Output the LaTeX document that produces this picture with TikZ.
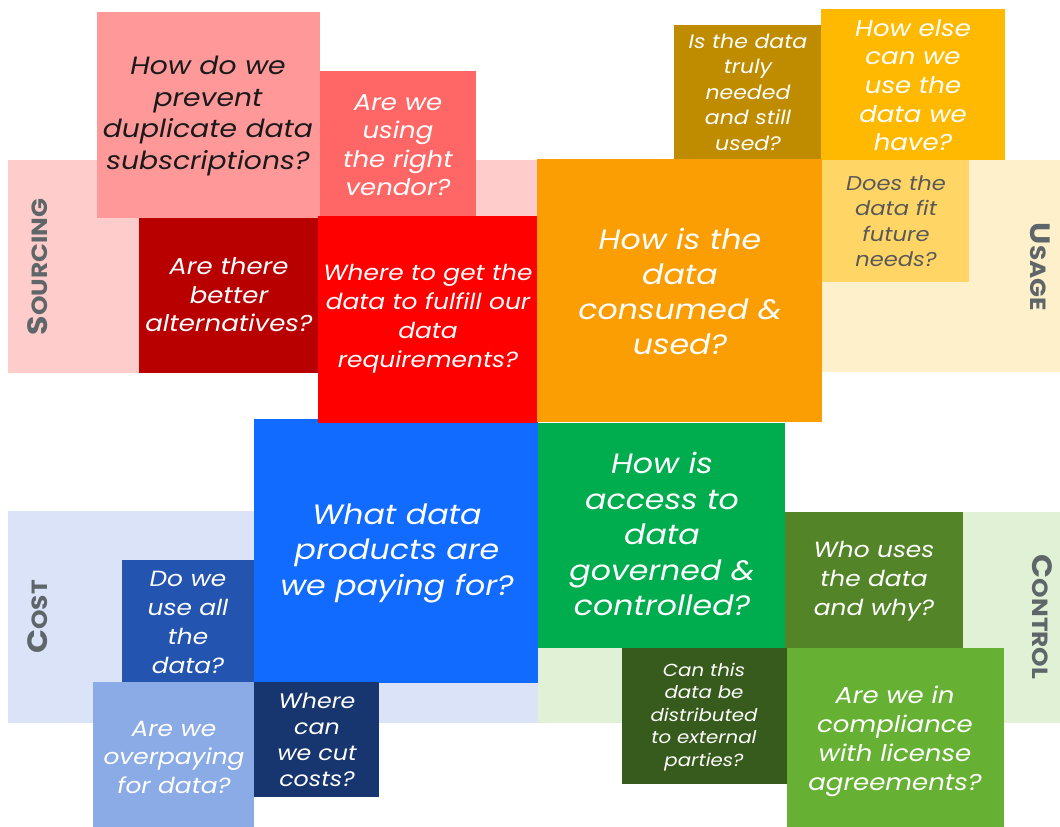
\documentclass[tikz,border=0pt]{standalone}
\usepackage{fontspec}
\setmainfont{Poppins}[FakeStretch=1.13]
\usetikzlibrary{positioning}
\usepackage{xcolor}
% band colours
\definecolor{srcband}{HTML}{FFCCCC}
\definecolor{useband}{HTML}{FFF0CC}
\definecolor{costband}{HTML}{DAE3F7}
\definecolor{ctrlband}{HTML}{E1F1D6}
% sourcing
\definecolor{srcdup}{HTML}{FF9999}
\definecolor{srcvendor}{HTML}{FF6666}
\definecolor{srcalt}{HTML}{B80000}
\definecolor{srcmain}{HTML}{FF0000}
% usage
\definecolor{usetruly}{HTML}{BF8C00}
\definecolor{useelse}{HTML}{FFB900}
\definecolor{usemain}{HTML}{FB9E04}
\definecolor{usefit}{HTML}{FFD666}
% cost
\definecolor{costmain}{HTML}{116BFF}
\definecolor{costall}{HTML}{2254B0}
\definecolor{costover}{HTML}{8AABE5}
\definecolor{costcut}{HTML}{17356F}
% control
\definecolor{ctrlmain}{HTML}{00AD4E}
\definecolor{ctrlwho}{HTML}{538528}
\definecolor{ctrldist}{HTML}{375B1C}
\definecolor{ctrlcomp}{HTML}{66B133}
\definecolor{labelgray}{HTML}{5F6669}
\definecolor{darktext}{HTML}{1A1A1A}
\definecolor{midtext}{HTML}{595959}

\newcommand{\qfont}[2]{\itshape\fontsize{#1}{#2}\selectfont}
\newcommand{\bandcap}[2]{{\fontsize{28}{28}\selectfont #1}{\fontsize{22}{22}\selectfont #2}}

\tikzset{
  question/.style={align=center, text=white, inner sep=0pt},
  bandname/.style={font=\bfseries, text=labelgray, inner sep=0pt}
}

\begin{document}
\begin{tikzpicture}[x=1pt,y=-1pt]
  \useasboundingbox (0,0) rectangle (1060,827);

  % Background bands
  \fill[srcband] (8,160) rectangle (537,373);
  \fill[useband] (822,160) rectangle (1060,372);
  \fill[costband] (8,511) rectangle (538,723);
  \fill[ctrlband] (538,512) rectangle (1060,723);

  \node[bandname, rotate=90] (sourcing) at (38,267) {\bandcap{S}{OURCING}};
  \node[bandname, rotate=-90] (usage) at (1040,267) {\bandcap{U}{SAGE}};
  \node[bandname, rotate=90] (cost) at (38,617) {\bandcap{C}{OST}};
  \node[bandname, rotate=-90] (control) at (1042,617) {\bandcap{C}{ONTROL}};

  % Sourcing
  \fill[srcdup] (97,12) rectangle (320,218);
  \node[question, text=darktext, font=\qfont{25}{31.5}] (dup) at (208,116)
    {How do we\\prevent\\duplicate data\\subscriptions?};

  \fill[srcvendor] (320,71) rectangle (476,216);
  \node[question, font=\qfont{23}{28.5}] (vendor) at (398,145)
    {Are we\\using\\the right\\vendor?};

  \fill[srcalt] (139,218) rectangle (320,373);
  \node[question, font=\qfont{23}{28.5}] (alt) at (229,295)
    {Are there\\better\\alternatives?};

  % Cost (under the red box)
  \fill[costmain] (254,419) rectangle (538,683);
  \node[question, font=\qfont{28}{35.5}] (products) at (397,553)
    {What data\\products are\\we paying for?};

  \fill[srcmain] (318,216) rectangle (537,423);
  \node[question, font=\qfont{22}{29}] (where) at (428,319)
    {Where to get the\\data to fulfill our\\data\\requirements?};

  \fill[costall] (122,560) rectangle (254,682);
  \node[question, font=\qfont{22}{29}] (useall) at (188,622)
    {Do we\\use all\\the\\data?};

  \fill[costover] (93,682) rectangle (254,827);
  \node[question, font=\qfont{22}{28.5}] (overpay) at (174,757)
    {Are we\\overpaying\\for data?};

  \fill[costcut] (254,682) rectangle (379,797);
  \node[question, font=\qfont{21}{26}] (cut) at (317,740)
    {Where\\can\\we cut\\costs?};

  % Usage
  \fill[usetruly] (674,25) rectangle (821,159);
  \node[question, font=\qfont{19.5}{25.5}] (truly) at (748,92)
    {Is the data\\truly\\needed\\and still\\used?};

  \fill[useelse] (821,9) rectangle (1005,160);
  \node[question, font=\qfont{23}{28.7}] (else) at (913,85)
    {How else\\can we\\use the\\data we\\have?};

  \fill[usemain] (537,159) rectangle (822,422);
  \node[question, font=\qfont{28}{35}] (consumed) at (680,291)
    {How is the\\data\\consumed \&\\used?};

  \fill[usefit] (822,160) rectangle (969,282);
  \node[question, text=midtext, font=\qfont{20}{25.5}] (fit) at (896,221)
    {Does the\\data fit\\future\\needs?};

  % Control
  \fill[ctrlmain] (538,423) rectangle (785,648);
  \node[question, font=\qfont{28}{35.5}] (access) at (662,534)
    {How is\\access to\\data\\governed \&\\controlled?};

  \fill[ctrlwho] (785,512) rectangle (963,648);
  \node[question, font=\qfont{22}{28.7}] (who) at (874,581)
    {Who uses\\the data\\and why?};

  \fill[ctrldist] (622,648) rectangle (787,784);
  \node[question, font=\qfont{17.5}{22.5}] (dist) at (704,717)
    {Can this\\data be\\distributed\\to external\\parties?};

  \fill[ctrlcomp] (787,648) rectangle (1004,827);
  \node[question, font=\qfont{23}{29}] (comp) at (895,741)
    {Are we in\\compliance\\with license\\agreements?};
\end{tikzpicture}
\end{document}
